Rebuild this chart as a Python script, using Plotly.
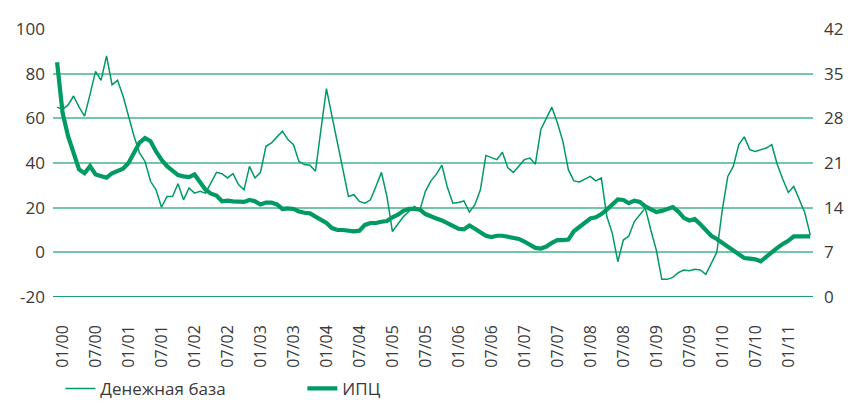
import plotly.graph_objects as go

# Monthly dates 01/2000 .. 06/2011 (index 0..137)
months = [f"{m:02d}/{y:02d}" for y in range(0, 12) for m in range(1, 13)][:138]
x_idx = list(range(len(months)))

tick_labels = ["01/00", "07/00", "01/01", "07/01", "01/02", "07/02", "01/03", "07/03",
               "01/04", "07/04", "01/05", "07/05", "01/06", "07/06", "01/07", "07/07",
               "01/08", "07/08", "01/09", "07/09", "01/10", "07/10", "01/11"]
tick_pos = [months.index(t) for t in tick_labels]

# Денежная база, % (left axis)
money_base = [
    65, 64, 66, 70, 65, 61, 70.7, 81, 77, 88,
    75, 77, 70, 61, 52, 44.5, 40.7, 31.8, 28, 20.2,
    25, 25, 30.7, 23.5, 28.8, 26.5, 27.3, 26.5, 31, 35.8,
    35.2, 33.3, 35.2, 30.3, 28, 38.5, 33.3, 35.8, 47.5, 49,
    51.7, 54.2, 50.5, 48.2, 40.7, 39.3, 39, 36.3, 55, 73.3,
    61, 49, 37, 25, 25.8, 22.8, 22, 23.5, 29.5, 35.8,
    25, 9.3, 12.7, 16, 18.3, 20.5, 19, 27.3, 32, 35,
    39, 29, 22, 22.3, 23, 18, 21.3, 28, 43.4, 42.5,
    41.5, 44.8, 37.8, 35.8, 38.7, 41.5, 42.2, 39.5, 55, 60.2,
    65, 58, 49.7, 37, 32, 31.5, 32.8, 34, 32, 33.3,
    16, 8.5, -4.2, 5.5, 7.3, 13.8, 16.8, 19.8, 10, 1,
    -12.1, -12.1, -11.2, -9.1, -7.9, -8.2, -7.6, -7.9, -9.9, -4.9,
    0, 19, 34, 38.5, 48.2, 51.7, 46, 45.2, 46, 46.7,
    48.2, 39.3, 32.8, 26.8, 29.5, 23.5, 17.8, 7.8,
]

# ИПЦ, % (right axis)
cpi = [
    36.8, 28.9, 25.2, 22.6, 20.0, 19.4, 20.5, 19.2, 18.9, 18.7,
    19.4, 19.7, 20.1, 21.0, 22.6, 24.2, 24.9, 24.4, 22.8, 21.5,
    20.5, 19.7, 19.1, 18.9, 18.8, 19.2, 17.9, 16.8, 16.2, 15.9,
    15.0, 15.1, 15.0, 14.9, 14.9, 15.2, 15.0, 14.5, 14.8, 14.8,
    14.5, 13.8, 13.9, 13.8, 13.4, 13.2, 13.1, 12.6, 12.1, 11.6,
    10.8, 10.5, 10.5, 10.4, 10.3, 10.4, 11.3, 11.6, 11.6, 11.8,
    11.9, 12.5, 12.9, 13.5, 13.8, 13.8, 13.7, 13.0, 12.6, 12.3,
    12.0, 11.6, 11.2, 10.7, 10.6, 11.2, 10.7, 10.1, 9.6, 9.4,
    9.6, 9.6, 9.4, 9.2, 9.1, 8.7, 8.2, 7.7, 7.6, 7.9,
    8.5, 8.9, 8.9, 9.0, 10.3, 11.0, 11.7, 12.3, 12.5, 13.0,
    13.7, 14.5, 15.3, 15.2, 14.7, 15.1, 14.9, 14.2, 13.7, 13.3,
    13.5, 13.8, 14.1, 13.4, 12.4, 12.0, 12.2, 11.4, 10.6, 9.6,
    9.1, 8.5, 7.9, 7.2, 6.5, 6.1, 6.0, 5.9, 5.6, 6.3,
    7.2, 7.7, 8.3, 8.8, 9.5, 9.5, 9.5, 9.5,
]

GREEN = "#009a63"
GRID = "#74c7a6"
TEXT = "#3a3a3a"
FONT = "Open Sans"
FS = 17

fig = go.Figure()
fig.add_trace(go.Scatter(x=x_idx, y=money_base, name="Денежная база", mode="lines",
                         line=dict(color=GREEN, width=1.5), yaxis="y"))
fig.add_trace(go.Scatter(x=x_idx, y=cpi, name="ИПЦ", mode="lines",
                         line=dict(color=GREEN, width=4.2), yaxis="y2"))

# the page body adds an 8px offset; the figure is sized to fit the 854x403 window
fig.update_layout(
    width=846, height=395,
    margin=dict(l=45, r=41, t=21, b=106, autoexpand=False),
    paper_bgcolor="white", plot_bgcolor="white",
    font=dict(family=FONT, size=FS, color=TEXT),
    showlegend=True,
    legend=dict(orientation="h", x=0.0097, xanchor="left", y=-0.343, yanchor="middle",
                font=dict(family=FONT, size=FS, color=TEXT),
                entrywidth=197, entrywidthmode="pixels",
                bgcolor="rgba(0,0,0,0)", traceorder="normal"),
    xaxis=dict(range=[-0.74, 137.5], tickmode="array", tickvals=tick_pos, ticktext=tick_labels,
               tickangle=-90, showgrid=False, zeroline=False, showline=False, automargin=False,
               ticks="", ticklabelshift=6, ticklabelstandoff=24,
               tickfont=dict(family=FONT, size=16, color=TEXT)),
    yaxis=dict(range=[-20, 100], tickvals=[-20, 0, 20, 40, 60, 80, 100],
               ticktext=["-20", "0", "20", "40", "60", "80", "100"], automargin=False,
               showgrid=True, gridcolor=GRID, gridwidth=1.6, zeroline=False,
               showline=False, ticks="", ticklabelstandoff=7,
               tickfont=dict(family=FONT, size=FS, color=TEXT)),
    yaxis2=dict(range=[0, 42], tickvals=[0, 7, 14, 21, 28, 35, 42], overlaying="y", side="right",
                showgrid=False, zeroline=False, showline=False, ticks="", ticklabelstandoff=10,
                automargin=False,
                tickfont=dict(family=FONT, size=FS, color=TEXT)),
)

# darker bottom axis line
fig.add_shape(type="line", xref="paper", yref="y", x0=0, x1=1, y0=-20, y1=-20,
              line=dict(color="#1f9e6f", width=1.8), layer="below")

fig.write_html("out.html")
